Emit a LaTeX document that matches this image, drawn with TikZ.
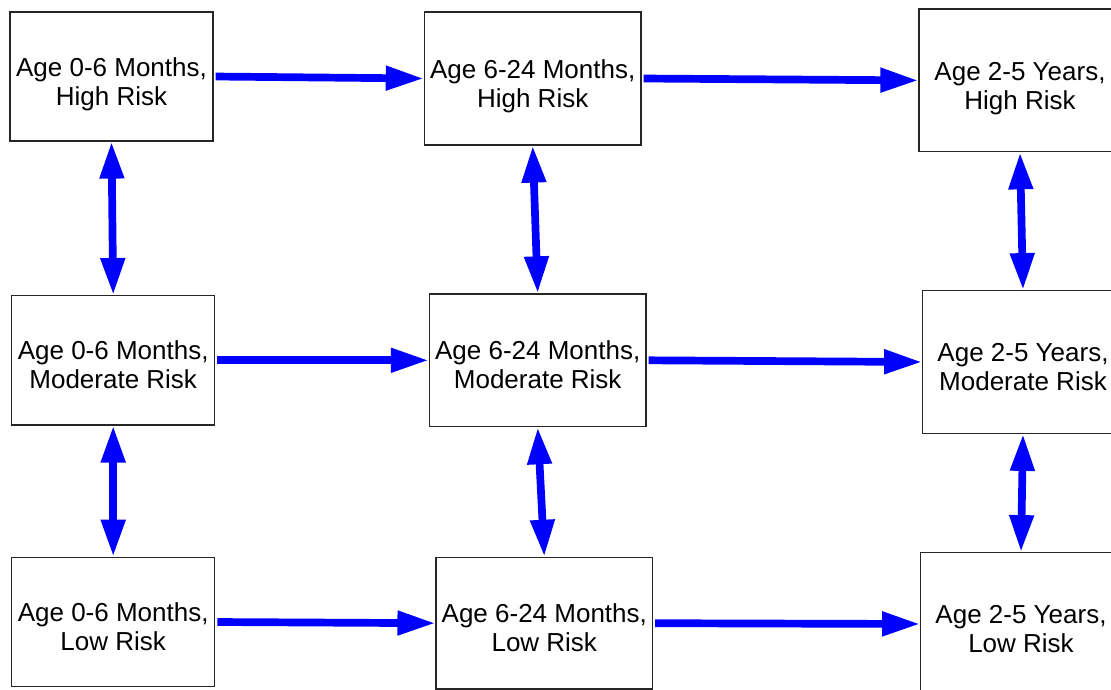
\documentclass[tikz,border=0pt]{standalone}
\usepackage{fontspec}
\setmainfont{Liberation Sans}
\usetikzlibrary{arrows.meta}
\definecolor{arrowblue}{RGB}{0,0,255}
\tikzset{
  riskbox/.style={draw=black!85, line width=1.2pt, fill=white, rectangle,
    inner sep=0pt, align=center, font=\fontsize{26}{29}\selectfont},
  harr/.style={draw=arrowblue, line width=7.7pt,
    -{Triangle[length=38pt,width=23pt]}, shorten <=2pt},
  varr/.style={draw=arrowblue, line width=7.7pt,
    {Triangle[length=37pt,width=23pt]}-{Triangle[length=37pt,width=23pt]}}
}
\newcommand{\boxtext}[2]{\rule{0pt}{37pt}#1\strut\\#2\strut}
\begin{document}
\begin{tikzpicture}[x=1pt,y=-1pt]
\fill[white] (0,0) rectangle (1111,690);
\clip (0,0) rectangle (1111,690);
% row 1
\node[riskbox, minimum width=203pt, minimum height=129pt] (A) at (111.5,76.5) {\boxtext{Age 0-6 Months,}{High Risk}};
\node[riskbox, minimum width=216.7pt, minimum height=133pt] (B) at (532.7,78.5) {\boxtext{Age 6-24 Months,}{High Risk}};
\node[riskbox, minimum width=202pt, minimum height=142.7pt] (C) at (1020,80.4) {\boxtext{Age 2-5 Years,}{High Risk}};
% row 2
\node[riskbox, minimum width=203pt, minimum height=129.3pt] (D) at (113.2,360.3) {\boxtext{Age 0-6 Months,}{Moderate Risk}};
\node[riskbox, minimum width=216.7pt, minimum height=132.7pt] (E) at (537.7,360.3) {\boxtext{Age 6-24 Months,}{Moderate Risk}};
\node[riskbox, minimum width=200.6pt, minimum height=142.6pt] (F) at (1023,362) {\boxtext{Age 2-5 Years,}{Moderate Risk}};
% row 3
\node[riskbox, minimum width=203pt, minimum height=129.4pt] (G) at (113.2,622) {\boxtext{Age 0-6 Months,}{Low Risk}};
\node[riskbox, minimum width=216.5pt, minimum height=131.7pt] (H) at (544.3,623.2) {\boxtext{Age 6-24 Months,}{Low Risk}};
\node[riskbox, minimum width=200.6pt, minimum height=142.6pt] (I) at (1021,624) {\boxtext{Age 2-5 Years,}{Low Risk}};
% horizontal arrows
\draw[harr] (A.east) -- (B.west);
\draw[harr] (B.east) -- (C.west);
\draw[harr] (D.east) -- (E.west);
\draw[harr] (E.east) -- (F.west);
\draw[harr] (G.east) -- (H.west);
\draw[harr] (H.east) -- (I.west);
% vertical double arrows
\draw[varr] (A.south) -- (D.north);
\draw[varr] (D.south) -- (G.north);
\draw[varr] (B.south) -- (E.north);
\draw[varr] (E.south) -- (H.north);
\draw[varr] (C.south) -- (F.north);
\draw[varr] (F.south) -- (I.north);
\end{tikzpicture}
\end{document}
